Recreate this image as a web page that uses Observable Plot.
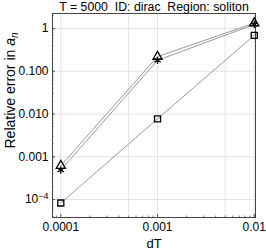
<!DOCTYPE html>
<html><head><meta charset="utf-8">
<script src="https://cdn.jsdelivr.net/npm/d3@7"></script>
<script src="https://cdn.jsdelivr.net/npm/@observablehq/plot@0.6"></script>
<style>
body{margin:0;background:#fff;}
svg{font-family:"Liberation Sans",Arial,sans-serif;}
</style>
</head><body><div id="chart"></div>
<script>
const dT = [0.0001, 0.001, 0.01];
const seriesNames = ["triangle", "asterisk", "square"];
const errTriangle = [6.2e-4, 0.22, 1.33];
const errAsterisk = [4.9e-4, 0.18, 1.24];
const errSquare = [8.3e-5, 0.0077, 0.69];
const title = "T = 5000\u00a0 ID: dirac\u00a0 Region: soliton";
const xLabel = "dT";
const yLabel = "Relative error in a";
const xTicks = [0.0001, 0.001, 0.01];
const xTickLabels = ["0.0001", "0.001", "0.01"];
const yTicks = [1, 0.1, 0.01, 0.001, 0.0001];
const yTickLabels = ["1", "0.100", "0.010", "0.001", "10^-4"];
const xGrid = [0.0001, 0.0005, 0.001, 0.005, 0.01];

const seriesValues = [errTriangle, errAsterisk, errSquare];
const rows = [];
seriesNames.forEach((s, i) => dT.forEach((d, j) => rows.push({series: s, dT: d, err: seriesValues[i][j]})));

const minorX = [], minorY = [];
for (let e = -5; e <= 0; e++) for (let k = 2; k <= 9; k++) { minorX.push(k * 10 ** e); minorY.push(k * 10 ** e); }

const xDom = [10 ** -4.086, 10 ** -1.987];
const yDom = [10 ** -4.42, 10 ** 0.35];
const xMid = Math.sqrt(xDom[0] * xDom[1]);
const yLabelAt = 10 ** -1.45;

const fmtX = d => { const i = xTicks.findIndex(v => Math.abs(Math.log10(v) - Math.log10(d)) < 1e-6); return i < 0 ? "" : xTickLabels[i]; };
const fmtY = d => { const i = yTicks.findIndex(v => Math.abs(Math.log10(v) - Math.log10(d)) < 1e-6); return i < 0 ? "" : yTickLabels[i]; };

const chart = Plot.plot({
  width: 266, height: 251,
  marginLeft: 52, marginRight: 11, marginTop: 13, marginBottom: 34,
  style: {fontFamily: "Liberation Sans, Arial, sans-serif", fontSize: "12px", background: "white", color: "black", overflow: "visible"},
  x: {type: "log", domain: xDom},
  y: {type: "log", domain: yDom},
  symbol: {domain: seriesNames, range: ["triangle", "asterisk", "square"]},
  marks: [
    Plot.gridX(xGrid, {stroke: "#e4e4e4", strokeOpacity: 1}),
    Plot.gridY(yTicks, {stroke: "#e4e4e4", strokeOpacity: 1}),
    Plot.axisX({ticks: xTicks, tickSize: -3, tickFormat: () => "", label: null, stroke: "#555"}),
    Plot.axisX({ticks: minorX.filter(v => v > xDom[0] && v < xDom[1]), tickSize: -1.5, tickFormat: () => "", label: null, stroke: "#777"}),
    Plot.axisY({ticks: yTicks, tickSize: -3, tickFormat: () => "", label: null, stroke: "#555"}),
    Plot.axisY({ticks: minorY.filter(v => v > yDom[0] && v < yDom[1]), tickSize: -1.5, tickFormat: () => "", label: null, stroke: "#777"}),
    Plot.axisX({ticks: xTicks, tickSize: 0, tickPadding: 5, tickFormat: fmtX, label: null, fontSize: 12}),
    Plot.axisY({ticks: yTicks, tickSize: 0, tickPadding: 4, tickFormat: fmtY, label: null, fontSize: 12}),
    Plot.frame({stroke: "#444"}),
    Plot.line(rows, {x: "dT", y: "err", z: "series", stroke: "#999", strokeWidth: 1}),
    Plot.dot(rows, {x: "dT", y: "err", symbol: "series", stroke: "black", strokeWidth: 1.3, r: 3.4}),
    Plot.text([xLabel], {x: [xMid], frameAnchor: "bottom", textAnchor: "middle", lineAnchor: "middle", dy: 26, fontSize: 13, text: d => d}),
    Plot.text([yLabel], {y: [yLabelAt], frameAnchor: "left", rotate: -90, textAnchor: "middle", lineAnchor: "middle", dx: -42, fontSize: 14, text: d => d}),
    Plot.text([title], {x: [xMid], frameAnchor: "top", textAnchor: "middle", lineAnchor: "middle", dy: -6, fontSize: 12.3, text: d => d})
  ]
});
document.getElementById("chart").appendChild(chart);
d3.select(chart).selectAll("text").each(function() {
  const t = d3.select(this);
  const s = t.text();
  if (s === yLabel) {
    t.text("Relative error in ");
    t.append("tspan").attr("font-style", "italic").text("a");
    t.append("tspan").attr("dy", "0.3em").attr("font-size", "10px").attr("font-style", "italic").text("n");
  } else if (s === "10^-4") {
    t.text("10");
    t.append("tspan").attr("dy", "-0.45em").attr("font-size", "9px").text("\u22124");
  }
});
</script>
</body></html>
